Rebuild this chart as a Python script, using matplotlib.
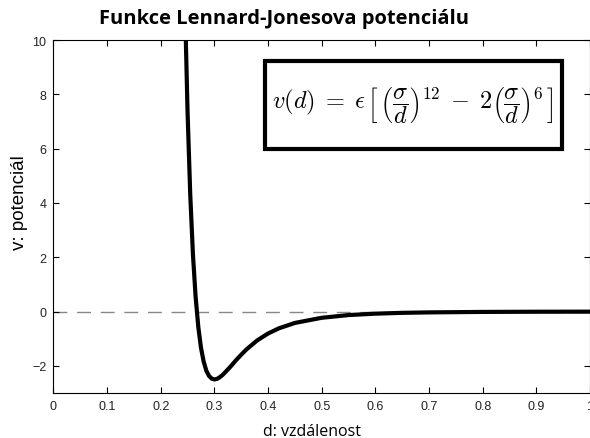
import matplotlib
matplotlib.use("Agg")
import matplotlib.pyplot as plt
from matplotlib.patches import Rectangle

# Sampled points of the potential curve
d_vals = [0.245, 0.25, 0.255, 0.26, 0.265, 0.27, 0.275, 0.28, 0.285, 0.29,
          0.295, 0.30, 0.305, 0.31, 0.315, 0.32, 0.33, 0.34, 0.35, 0.36,
          0.38, 0.40, 0.42, 0.45, 0.50, 0.55, 0.60, 0.65, 0.70, 0.80,
          0.90, 1.00]
v_vals = [11.5, 7.36, 4.32, 2.12, 0.55, -0.56, -1.33, -1.84, -2.18, -2.37,
          -2.47, -2.50, -2.48, -2.42, -2.34, -2.24, -2.03, -1.80, -1.59, -1.39,
          -1.06, -0.81, -0.62, -0.42, -0.23, -0.13, -0.078, -0.048, -0.031, -0.014,
          -0.007, -0.004]

x_ticks = [0, 0.1, 0.2, 0.3, 0.4, 0.5, 0.6, 0.7, 0.8, 0.9, 1]
x_tick_labels = ["0", "0.1", "0.2", "0.3", "0.4", "0.5", "0.6", "0.7", "0.8", "0.9", "1"]
y_ticks = [-2, 0, 2, 4, 6, 8, 10]
y_tick_labels = ["\u22122", "0", "2", "4", "6", "8", "10"]

plt.rcParams["mathtext.fontset"] = "cm"

fig = plt.figure(figsize=(5.9, 4.39), dpi=100)
ax = fig.add_axes([0.0905, 0.1025, 0.9095, 0.8041])

ax.axhline(0, color="#888888", lw=1.0, dashes=(10, 7), zorder=1)
ax.plot(d_vals, v_vals, color="black", lw=3.0, solid_capstyle="round", zorder=2)

ax.set_xlim(0, 1)
ax.set_ylim(-3, 10)
ax.set_xticks(x_ticks)
ax.set_xticklabels(x_tick_labels)
ax.set_yticks(y_ticks)
ax.set_yticklabels(y_tick_labels)
ax.tick_params(direction="in", length=4, width=0.8, top=True, right=True,
               labelsize=9, pad=5, colors="black")
for lab in ax.get_xticklabels() + ax.get_yticklabels():
    lab.set_family("Liberation Sans")
    lab.set_color("#222222")
for s in ax.spines.values():
    s.set_linewidth(0.8)

ax.set_title("Funkce Lennard-Jonesova potenciálu", family="Open Sans",
             fontweight="bold", fontsize=14.5, pad=12, x=0.43)
ax.set_xlabel("d: vzdálenost", family="Open Sans", fontsize=11.5)
ax.xaxis.set_label_coords(0.482, -0.085)
ax.set_ylabel("v: potenciál", family="Liberation Sans", fontsize=13.5)
ax.yaxis.set_label_coords(-0.047, 0.541)

# Boxed formula
ax.add_patch(Rectangle((0.394, 0.691), 0.553, 0.25, transform=ax.transAxes,
                       fill=False, edgecolor="black", lw=3.0, zorder=5))
ax.text(0.669, 0.818,
        r"$v(d)\;=\;\epsilon\,\left[\,\left(\dfrac{\sigma}{d}\right)^{12}\;-\;2\left(\dfrac{\sigma}{d}\right)^{6}\,\right]$",
        transform=ax.transAxes, ha="center", va="center", fontsize=17.5, zorder=6)

fig.savefig("out.png", dpi=100)
